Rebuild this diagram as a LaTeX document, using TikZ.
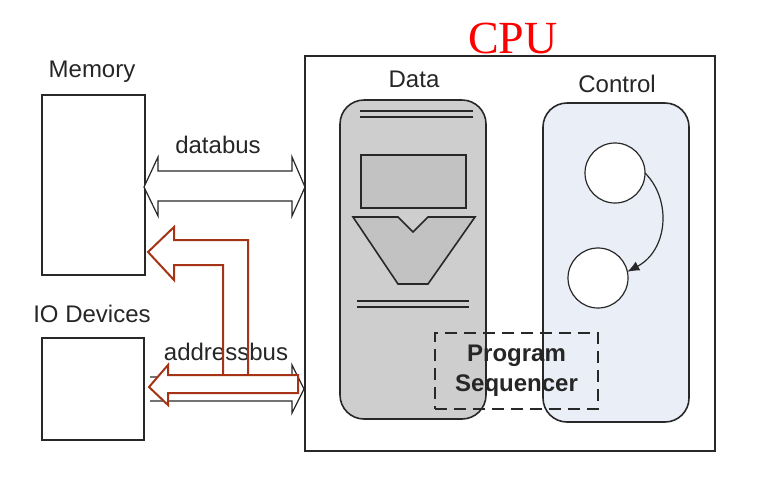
\documentclass[tikz,border=0pt]{standalone}
\usepackage{fontspec}
\setmainfont{Liberation Sans}
\newfontfamily\cpufont{Liberation Serif}
\usepackage{tikz}
\usetikzlibrary{positioning,arrows.meta}
\definecolor{busred}{RGB}{165,52,22}
\definecolor{datagray}{RGB}{206,206,206}
\definecolor{reggray}{RGB}{194,194,194}
\definecolor{ctrlblue}{RGB}{234,239,247}
\definecolor{linegray}{RGB}{40,40,40}

\begin{document}
\begin{tikzpicture}[x=0.5pt, y=-0.5pt, every node/.style={inner sep=0pt, outer sep=0pt},
    lbl/.style={font=\fontsize{12}{14}\selectfont, text=black!85, anchor=base},
    unit/.style={draw=linegray, line width=0.9pt, fill=white},
    slab/.style={draw=linegray, line width=0.8pt, rounded corners=12pt},
    bus/.style={draw=linegray, line width=0.6pt, fill=white},
    redbus/.style={draw=busred, line width=1pt, line join=miter}]
    \useasboundingbox (0,0) rectangle (758,483);
    % units
    \node[unit, minimum width=51.5pt, minimum height=90pt] (memory) at (93.5,185) {};
    \node[unit, minimum width=51pt, minimum height=51pt] (io) at (93,389) {};
    \node[unit, minimum width=205pt, minimum height=197.5pt] (cpu) at (510,253.5) {};
    \node[lbl] (memlabel) at (92,77) {Memory};
    \node[lbl] (iolabel) at (92,322) {IO Devices};
    \node[lbl, font=\cpufont\fontsize{23}{26}\selectfont, text=red] (cpulabel) at (513,53) {CPU};
    % data path
    \node[slab, fill=datagray, minimum width=73pt, minimum height=159.5pt] (data) at (413,259.5) {};
    \node[lbl] (datalabel) at (414,87) {Data};
    \draw[linegray, line width=0.6pt] (360,111) -- (473,111) (360,117) -- (473,117);
    \draw[linegray, line width=0.6pt] (357,301) -- (469,301) (357,307) -- (469,307);
    \node[draw=linegray, line width=0.8pt, fill=reggray, minimum width=52.5pt, minimum height=26.5pt] (reg) at (413.5,181.5) {};
    \draw[linegray, line width=0.8pt, fill=reggray, line join=miter] (353,217) -- (398,217) -- (413,232) -- (428,217)
        -- (475,217) -- (428,284) -- (398,284) -- cycle;
    % control
    \node[slab, fill=ctrlblue, minimum width=73pt, minimum height=159.5pt] (ctrl) at (616,262.5) {};
    \node[lbl] (ctrllabel) at (617,92) {Control};
    \node[circle, draw=linegray, line width=0.6pt, fill=white, minimum size=30pt] (s1) at (615,173) {};
    \node[circle, draw=linegray, line width=0.6pt, fill=white, minimum size=30pt] (s2) at (598,278) {};
    \draw[-{Latex[length=6pt, width=5pt]}, linegray, line width=0.6pt] (s1.east) .. controls (672,200) and (668,250) .. (s2.12);
    % sequencer
    \node[draw=linegray, line width=1pt, dash pattern=on 6pt off 3.5pt, minimum width=81.5pt, minimum height=38pt,
        align=center, font=\bfseries\fontsize{12}{15}\selectfont, text=black!85] (seq) at (516.5,371) {Program\\Sequencer};
    % databus
    \draw[bus] (144,187) -- (158,157) -- (158,171) -- (292,171) -- (292,157) -- (305,187) -- (292,216)
        -- (292,201) -- (158,201) -- (158,216) -- cycle;
    \node[lbl] (dblabel) at (218,153) {databus};
    % addressbus
    \draw[linegray, line width=0.6pt] (150,377) -- (292,377) -- (292,365) -- (304,389) -- (292,413) -- (292,401) -- (150,401);
    \node[lbl] (ablabel) at (226,360) {addressbus};
    \draw[redbus, fill=white] (149,387) -- (168,365) -- (168,375) -- (298,375) -- (298,393) -- (168,393) -- (168,405) -- cycle;
    \draw[redbus] (223,375) -- (223,265) -- (174,265) -- (174,280) -- (148,252) -- (174,227) -- (174,240) -- (248,240) -- (248,375);
\end{tikzpicture}
\end{document}
